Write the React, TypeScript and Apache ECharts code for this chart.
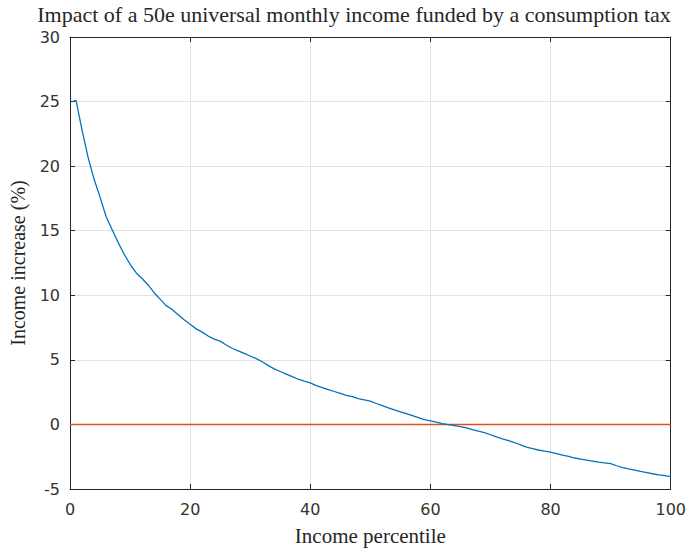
import React, { useEffect, useRef } from "react";
import * as echarts from "echarts";

const percentiles = [0.4, 1, 2, 3, 4, 5, 6, 7, 8, 9, 10, 11, 12, 13, 14, 15, 16, 17, 18, 19, 20, 21, 22, 23, 24, 25, 26, 27, 28, 29, 30, 31, 32, 33, 34, 35, 36, 37, 38, 39, 40, 41, 42, 43, 44, 45, 46, 47, 48, 49, 50, 51, 52, 53, 54, 55, 56, 57, 58, 59, 60, 61, 62, 63, 64, 65, 66, 67, 68, 69, 70, 71, 72, 73, 74, 75, 76, 77, 78, 79, 80, 81, 82, 83, 84, 85, 86, 87, 88, 89, 90, 91, 92, 93, 94, 95, 96, 97, 98, 99, 100];
const incomeIncrease = [25.0, 25.1, 22.8, 20.7, 19.0, 17.6, 16.1, 15.1, 14.1, 13.2, 12.4, 11.75, 11.3, 10.8, 10.2, 9.7, 9.2, 8.9, 8.5, 8.1, 7.75, 7.4, 7.15, 6.85, 6.6, 6.45, 6.15, 5.9, 5.7, 5.5, 5.3, 5.1, 4.85, 4.55, 4.3, 4.1, 3.9, 3.7, 3.5, 3.35, 3.22, 3.0, 2.85, 2.7, 2.55, 2.4, 2.25, 2.15, 2.0, 1.9, 1.8, 1.62, 1.45, 1.28, 1.12, 0.98, 0.83, 0.68, 0.53, 0.38, 0.28, 0.17, 0.07, -0.02, -0.09, -0.17, -0.27, -0.4, -0.52, -0.63, -0.8, -0.97, -1.12, -1.26, -1.4, -1.58, -1.75, -1.88, -1.98, -2.07, -2.15, -2.26, -2.38, -2.48, -2.6, -2.68, -2.76, -2.84, -2.92, -2.98, -3.03, -3.2, -3.35, -3.45, -3.54, -3.64, -3.73, -3.82, -3.9, -3.97, -4.05];
const zeroLineX = [0, 100];
const zeroLineY = [0, 0];

const titleText = "Impact of a 50e universal monthly income funded by a consumption tax";
const xAxisTitle = "Income percentile";
const yAxisTitle = "Income increase (%)";

export default function App() {
  const ref = useRef<HTMLDivElement>(null);
  useEffect(() => {
    if (!ref.current) return;
    const chart = echarts.init(ref.current, null, { renderer: "svg" });
    const axisColor = "#262626";
    const tickLabel = { color: "#333333", fontFamily: "DejaVu Sans", fontSize: 16 };
    const serif = "Liberation Serif";
    const boxLine = { show: true, onZero: false, lineStyle: { color: axisColor, width: 1 } };
    const tick = { show: true, inside: true, length: 5, lineStyle: { color: axisColor } };
    chart.setOption({
      animation: false,
      backgroundColor: "#ffffff",
      title: {
        text: titleText,
        left: 354,
        textAlign: "center",
        top: 3,
        padding: 0,
        textStyle: { fontFamily: serif, fontSize: 22, lineHeight: 22, fontWeight: "normal", color: "#262626" },
      },
      grid: { left: 68, right: 18, top: 37, bottom: 54 },
      xAxis: [
        {
          type: "value",
          min: 0,
          max: 100,
          interval: 20,
          name: xAxisTitle,
          nameLocation: "middle",
          nameGap: 36,
          nameTextStyle: { fontFamily: serif, fontSize: 21, color: "#262626" },
          axisLine: boxLine,
          axisTick: tick,
          axisLabel: { ...tickLabel, margin: 12 },
          splitLine: { show: true, lineStyle: { color: "#e3e3e3", width: 1 } },
        },
        {
          type: "value",
          position: "top",
          min: 0,
          max: 100,
          interval: 20,
          axisLine: boxLine,
          axisTick: tick,
          axisLabel: { show: false },
          splitLine: { show: false },
        },
      ],
      yAxis: [
        {
          type: "value",
          min: -5,
          max: 30,
          interval: 5,
          name: yAxisTitle,
          nameLocation: "middle",
          nameGap: 42,
          nameTextStyle: { fontFamily: serif, fontSize: 20, color: "#262626" },
          axisLine: boxLine,
          axisTick: tick,
          axisLabel: { ...tickLabel, margin: 10 },
          splitLine: { show: true, lineStyle: { color: "#e3e3e3", width: 1 } },
        },
        {
          type: "value",
          position: "right",
          min: -5,
          max: 30,
          interval: 5,
          axisLine: boxLine,
          axisTick: tick,
          axisLabel: { show: false },
          splitLine: { show: false },
        },
      ],
      series: [
        {
          type: "line",
          data: zeroLineX.map((x, i) => [x, zeroLineY[i]]),
          showSymbol: false,
          lineStyle: { color: "#D95319", width: 1.5 },
          z: 2,
        },
        {
          type: "line",
          data: percentiles.map((x, i) => [x, incomeIncrease[i]]),
          showSymbol: false,
          lineStyle: { color: "#0072BD", width: 1.3 },
          z: 3,
        },
      ],
    });
    return () => chart.dispose();
  }, []);
  return (
    <div
      ref={ref}
      style={{ position: "fixed", left: 0, top: 0, width: 689, height: 551 }}
    />
  );
}
